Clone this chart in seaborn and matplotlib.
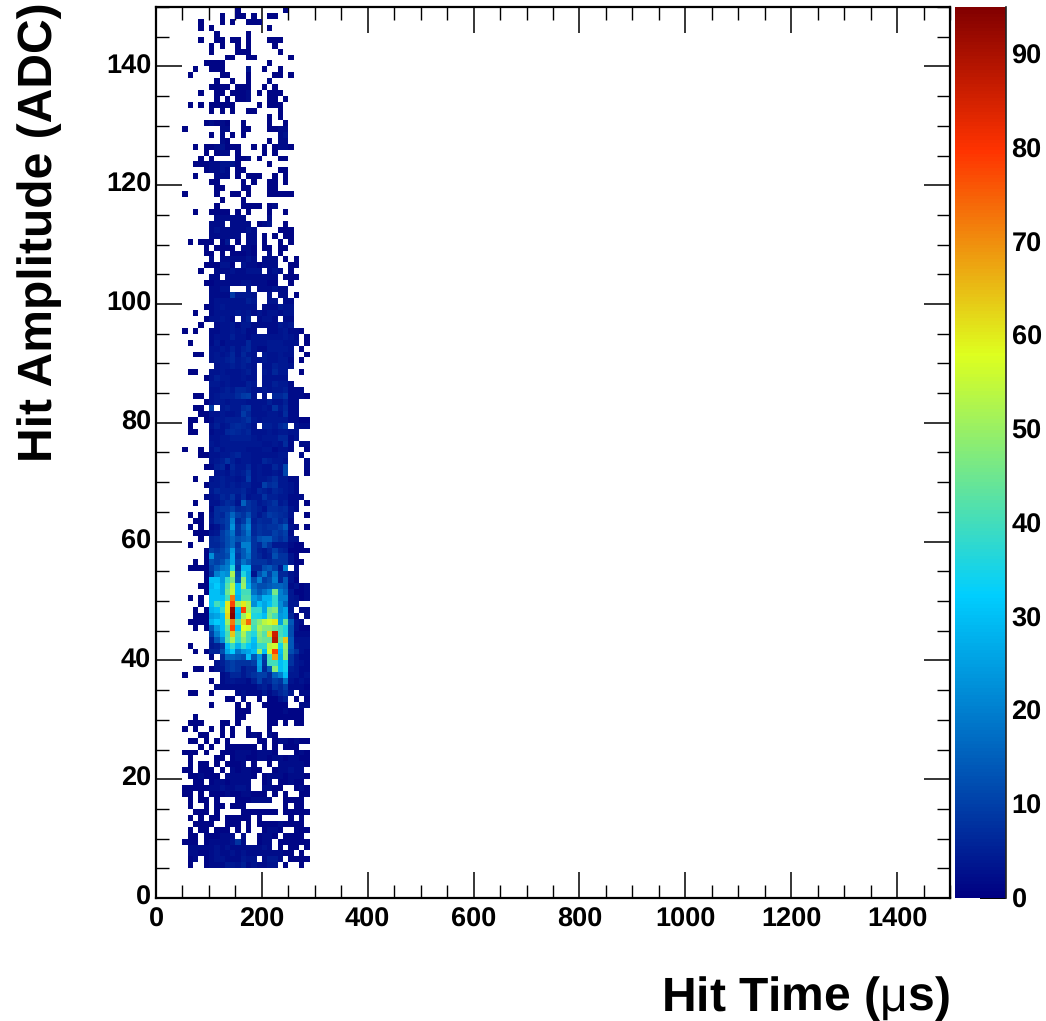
import numpy as np
import pandas as pd
import seaborn as sns
import matplotlib.pyplot as plt
from matplotlib.colors import LinearSegmentedColormap

# histogram binning: 10 us wide in time, 1 ADC high in amplitude
n_time_bins = 150
n_amp_bins = 150
first_time_bin = 5
top_amp_bin = 149

x_tick_labels = [0, 200, 400, 600, 800, 1000, 1200, 1400]
y_tick_labels = [0, 20, 40, 60, 80, 100, 120, 140]
cbar_ticks = [0, 10, 20, 30, 40, 50, 60, 70, 80, 90]

# counts, amplitude bin 149 first, time bins 5..29 in each row
hit_counts = [
    [0,0,0,0,0,0,0,0,0,0,1,0,0,0,0,0,0,0,0,1,0,0,0,0,0],
    [0,0,0,0,0,0,0,1,0,0,1,1,0,1,0,0,1,1,0,0,0,0,0,0,0],
    [0,0,0,1,0,0,0,1,0,1,0,0,1,1,1,0,0,0,0,0,0,0,0,0,0],
    [0,0,0,1,0,1,0,0,0,0,0,0,0,0,0,0,1,0,0,0,0,0,0,0,0],
    [0,0,0,0,0,0,1,0,0,0,0,0,1,0,0,0,0,0,0,0,0,0,0,0,0],
    [0,0,0,1,0,0,1,1,0,1,1,0,1,0,0,0,1,1,1,0,0,0,0,0,0],
    [0,0,0,0,0,1,0,1,0,0,1,0,1,0,0,0,0,1,0,0,0,0,0,0,0],
    [0,0,0,0,0,1,0,0,0,0,1,1,1,0,0,0,0,0,1,0,0,0,0,0,0],
    [0,0,0,0,0,0,0,0,1,1,0,0,1,1,0,0,0,0,0,0,1,0,0,0,0],
    [0,0,0,0,1,1,1,1,0,0,0,0,0,0,0,0,1,0,0,0,0,0,0,0,0],
    [0,0,1,0,0,1,1,1,0,0,0,0,3,0,0,1,0,0,1,0,0,0,0,0,0],
    [0,1,0,0,0,0,0,1,1,0,0,0,1,0,0,0,0,1,1,0,1,0,0,0,0],
    [0,0,0,0,0,0,1,0,0,1,0,0,1,0,0,0,2,0,0,0,0,0,0,0,0],
    [0,0,0,0,0,1,1,1,1,0,1,1,1,0,0,1,0,1,0,0,0,0,0,0,0],
    [0,0,0,1,0,0,1,1,0,1,1,1,2,0,1,0,1,1,1,0,0,0,0,0,0],
    [0,0,0,0,0,0,1,0,1,0,1,1,2,0,0,0,1,1,0,1,0,0,0,0,0],
    [0,1,0,1,0,1,1,1,1,1,0,0,0,0,1,0,1,1,1,0,0,0,0,0,0],
    [0,0,0,0,0,1,0,1,0,1,0,0,1,1,0,0,0,0,1,0,0,0,0,0,0],
    [0,0,0,0,0,0,0,0,0,0,0,0,0,0,0,0,1,0,1,0,0,0,0,0,0],
    [0,0,0,0,1,2,1,2,1,0,0,1,0,0,0,0,1,0,0,1,0,0,0,0,0],
    [1,0,0,0,0,0,0,2,2,0,0,1,1,0,0,0,1,1,2,2,0,0,0,0,0],
    [0,0,0,0,0,1,0,2,0,1,0,1,0,0,0,0,0,0,2,3,0,0,0,0,0],
    [0,0,0,0,0,0,0,2,1,0,0,0,0,0,0,0,1,0,2,2,0,0,0,0,0],
    [0,0,1,0,1,1,2,3,1,1,1,0,0,1,0,1,0,1,2,2,1,0,0,0,0],
    [0,0,0,0,1,0,1,2,2,0,1,0,0,0,0,1,0,1,0,0,0,0,0,0,0],
    [0,0,0,1,0,1,0,0,0,0,1,1,2,0,1,0,0,0,1,1,0,0,0,0,0],
    [0,0,1,1,1,2,2,3,3,3,1,0,0,0,0,0,1,0,0,0,0,0,0,0,0],
    [0,0,0,0,1,2,2,3,2,0,1,1,0,0,0,0,0,0,1,1,0,0,0,0,0],
    [0,0,1,0,0,0,2,2,2,0,1,0,1,1,1,0,0,1,0,1,0,0,0,0,0],
    [0,0,0,0,0,1,1,0,0,0,0,1,0,1,0,0,1,1,0,1,0,0,0,0,0],
    [0,0,0,0,0,0,1,1,0,0,0,1,1,0,0,0,1,1,0,0,0,0,0,0,0],
    [1,0,0,0,0,0,1,0,0,1,1,0,1,0,0,0,1,1,1,1,1,0,0,0,0],
    [0,0,0,0,0,0,0,1,0,0,0,1,0,0,0,0,0,0,0,0,0,0,0,0,0],
    [0,0,0,0,0,0,1,0,0,0,0,1,1,1,1,0,1,2,0,0,0,0,0,0,0],
    [0,0,1,0,0,1,1,1,1,0,1,0,1,0,0,0,1,0,0,1,0,0,0,0,0],
    [0,0,0,0,0,0,2,2,2,2,2,2,0,0,0,0,2,0,0,0,0,0,0,0,0],
    [0,0,0,0,0,2,2,2,0,2,2,2,2,0,1,2,3,0,0,1,0,0,0,0,0],
    [0,0,0,0,0,2,3,2,2,2,2,2,3,2,0,0,0,0,1,1,1,0,0,0,0],
    [0,0,0,0,0,2,2,2,2,2,2,0,2,2,0,1,0,1,0,1,1,0,0,0,0],
    [0,1,0,1,1,1,0,1,4,0,1,0,2,2,0,1,0,0,1,0,1,0,0,0,0],
    [0,0,0,0,1,0,1,1,1,1,0,2,2,1,0,1,1,0,1,1,0,0,0,0,0],
    [0,0,0,0,1,1,0,1,0,1,1,1,2,1,0,0,2,0,1,0,0,0,0,0,0],
    [0,0,0,0,0,2,0,2,2,2,2,2,3,2,0,2,2,2,0,1,0,1,0,0,0],
    [0,0,0,0,1,1,1,3,3,1,0,3,2,2,1,2,2,2,0,0,1,1,0,0,0],
    [0,0,0,1,0,0,2,2,2,3,2,2,3,3,3,0,2,3,2,0,1,0,0,0,0],
    [0,0,0,0,0,2,2,0,2,2,2,2,2,2,2,2,2,2,0,1,1,1,0,0,0],
    [0,0,0,0,1,1,2,2,2,2,2,3,3,2,2,2,1,1,0,0,1,0,0,0,0],
    [0,0,0,0,0,2,2,3,3,0,0,0,3,0,2,2,2,3,2,2,0,0,0,0,0],
    [0,0,0,0,0,2,2,2,2,9,4,4,4,3,0,0,3,0,2,2,0,1,0,0,0],
    [0,0,0,0,0,2,3,3,3,3,3,3,5,4,0,0,3,3,0,2,2,0,0,0,0],
    [0,0,0,0,1,2,3,4,3,3,3,3,3,3,0,2,2,2,4,3,3,0,0,0,0],
    [0,0,1,0,0,2,3,3,3,3,4,3,4,2,3,2,3,3,2,3,3,0,0,0,0],
    [0,0,0,0,1,3,3,4,3,2,0,3,5,0,2,3,3,2,0,2,2,0,0,0,0],
    [0,0,0,1,0,0,2,3,3,4,2,4,4,2,2,2,2,2,4,3,4,0,0,0,0],
    [1,0,1,0,0,2,2,3,3,4,3,4,2,2,0,0,2,2,3,4,2,2,1,0,0],
    [0,0,0,0,0,2,3,3,3,5,3,3,2,3,3,3,3,3,3,4,3,2,0,1,0],
    [0,1,0,0,0,2,4,2,3,3,3,3,6,3,3,3,4,4,4,3,3,3,0,1,0],
    [0,0,0,0,0,3,3,4,3,5,3,5,6,3,2,2,4,4,4,4,3,0,1,0,0],
    [0,0,1,1,0,3,4,3,4,6,3,6,4,3,0,4,3,3,4,3,3,0,0,1,0],
    [0,0,0,0,0,3,4,4,5,6,4,5,6,3,3,4,3,3,4,4,2,0,1,0,0],
    [0,0,0,0,0,0,3,4,4,5,4,5,4,3,0,3,3,5,4,4,3,0,0,0,0],
    [0,1,1,0,0,3,3,4,3,3,3,4,5,3,0,4,3,6,4,4,0,0,1,0,0],
    [0,0,0,0,1,3,5,4,4,3,3,4,3,3,0,3,3,3,3,3,0,0,0,0,0],
    [0,0,0,0,0,4,4,3,4,3,3,3,5,4,0,3,3,5,4,4,2,0,0,0,0],
    [0,0,0,0,0,3,3,4,5,4,6,6,5,3,3,4,3,4,4,5,2,2,2,0,0],
    [0,0,1,1,0,3,4,5,5,5,7,9,10,3,0,3,0,6,6,8,2,2,2,1,0],
    [0,0,0,0,1,3,4,4,3,4,4,4,3,3,3,3,5,3,3,5,2,2,0,0,0],
    [0,0,1,1,0,9,0,4,5,4,4,7,8,3,3,4,3,8,4,6,2,2,0,0,0],
    [0,0,0,1,1,3,3,4,3,3,4,9,6,3,3,3,4,4,3,7,2,2,0,0,0],
    [0,1,1,0,1,2,4,4,5,5,5,6,8,4,3,4,4,4,4,4,2,2,1,1,0],
    [0,1,0,0,0,3,5,3,4,6,7,6,5,3,0,5,5,4,6,8,0,3,2,2,0],
    [0,1,1,0,0,2,3,3,6,7,6,5,6,3,3,3,4,3,4,4,3,3,0,0,0],
    [0,0,0,0,0,3,3,4,4,5,5,5,5,4,3,4,4,4,6,6,2,3,0,0,0],
    [0,0,0,0,0,4,3,4,4,4,4,4,4,4,4,3,3,4,3,7,2,0,2,2,0],
    [1,0,0,1,0,3,5,3,4,4,4,4,3,3,3,4,4,2,3,3,2,0,0,1,0],
    [0,0,0,1,1,3,3,4,4,5,6,4,4,3,3,3,3,3,4,4,0,0,2,0,0],
    [0,0,0,0,0,3,4,5,8,5,3,4,4,3,3,6,5,4,4,3,0,0,0,2,0],
    [0,0,0,0,1,2,5,6,2,6,4,4,6,3,4,3,3,6,4,11,0,0,0,2,0],
    [0,0,0,0,0,0,3,4,3,5,4,5,8,3,4,3,3,4,3,11,0,0,0,1,0],
    [0,0,1,0,0,3,4,5,4,4,3,4,9,3,4,4,5,7,4,4,2,2,0,0,0],
    [0,0,0,0,1,4,4,5,4,5,4,5,5,3,3,10,7,8,4,4,3,2,0,0,0],
    [0,0,0,0,0,4,6,5,5,5,5,6,4,3,6,5,4,6,5,4,3,2,0,0,0],
    [0,0,0,0,2,3,4,6,5,8,4,7,3,4,4,8,5,5,4,4,2,2,2,0,0],
    [0,0,1,0,0,3,3,5,7,6,3,15,8,6,4,5,6,8,4,5,2,2,0,1,0],
    [0,0,0,0,0,2,7,8,8,10,6,7,8,6,5,3,7,7,6,7,3,2,0,0,0],
    [0,1,0,1,0,3,7,6,10,16,10,8,12,6,4,6,9,8,7,6,3,0,0,1,0],
    [0,0,1,1,0,4,7,8,10,20,6,9,17,5,7,6,6,9,6,8,2,0,0,0,0],
    [0,1,0,1,0,2,3,6,10,23,8,14,20,6,8,7,8,8,10,14,3,2,0,1,0],
    [0,0,1,1,1,3,4,9,13,18,8,12,18,6,8,7,7,10,8,10,2,0,0,0,0],
    [0,0,0,1,0,6,7,9,12,16,12,14,16,8,12,14,14,9,7,9,3,3,0,0,0],
    [0,1,0,0,0,6,6,8,12,16,8,20,20,8,6,12,8,4,4,4,2,1,1,0,0],
    [0,0,0,0,1,10,8,10,14,24,10,14,20,8,5,4,6,10,6,5,1,1,1,1,0],
    [0,0,0,0,1,22,10,10,12,26,8,14,18,8,6,4,5,12,8,8,3,1,0,0,0],
    [0,0,1,0,1,12,10,12,18,26,10,18,14,8,8,8,6,8,8,8,3,1,1,0,0],
    [0,1,1,1,1,10,14,18,20,36,8,28,28,6,6,12,14,10,4,20,0,2,0,0,0],
    [0,0,0,0,1,8,20,24,22,52,12,36,26,3,12,18,10,18,6,6,3,2,0,0,0],
    [0,0,0,0,1,30,30,24,38,46,14,48,26,12,20,10,12,20,6,14,3,1,0,0,0],
    [0,0,0,1,1,28,32,26,42,54,30,50,28,16,12,12,14,16,16,14,2,3,1,2,0],
    [0,0,0,0,1,30,30,26,45,55,30,40,40,18,14,18,22,46,20,16,4,1,1,2,0],
    [0,1,0,1,0,30,30,30,40,72,28,42,42,24,20,28,28,38,20,20,4,3,1,2,0],
    [0,0,0,1,0,30,40,34,60,78,50,60,52,22,30,26,30,38,22,16,4,4,0,0,0],
    [0,0,1,0,1,28,30,38,60,93,30,78,52,38,38,26,45,48,22,26,4,0,2,2,0],
    [0,0,1,1,1,24,26,30,62,95,28,50,58,36,35,30,46,40,24,26,6,1,0,2,0],
    [0,1,1,1,1,28,32,30,50,72,42,62,74,42,48,54,56,60,25,44,14,3,2,0,0],
    [0,0,1,0,1,14,24,30,44,78,30,58,56,40,52,48,48,44,40,36,12,3,1,1,0],
    [0,0,0,0,0,10,20,28,40,64,40,52,40,36,48,42,62,86,40,36,12,2,2,2,0],
    [0,0,0,0,0,5,14,22,42,52,38,48,40,30,46,44,44,88,44,64,14,3,3,3,0],
    [0,1,0,0,0,4,5,8,30,38,28,38,32,28,38,38,54,56,34,50,14,4,3,3,0],
    [0,0,1,0,1,6,6,12,26,32,18,24,26,30,50,30,56,78,30,48,12,8,3,2,0],
    [0,0,0,0,0,2,0,6,16,16,14,12,30,14,24,10,40,68,28,48,8,4,2,2,0],
    [0,0,0,0,0,0,3,5,8,10,8,8,8,10,26,8,40,40,30,34,8,4,3,2,0],
    [0,0,1,1,0,1,3,4,8,10,8,4,6,6,24,6,14,48,30,34,5,4,2,2,0],
    [1,0,0,0,0,0,0,2,3,6,6,4,6,8,10,10,6,16,20,30,4,4,2,3,0],
    [0,0,0,0,0,1,0,2,3,4,3,3,2,5,10,5,6,10,8,18,3,2,3,2,0],
    [0,0,0,0,0,0,2,2,2,2,2,2,2,2,4,5,3,8,6,10,2,2,2,1,0],
    [0,1,1,0,0,1,0,0,0,0,2,3,2,2,2,4,2,4,6,8,4,0,2,2,0],
    [0,0,0,0,0,0,0,0,1,1,0,2,0,0,1,0,1,1,3,5,0,1,0,1,0],
    [0,0,0,0,0,1,0,0,0,0,1,0,1,0,0,1,1,1,1,1,0,0,2,2,0],
    [0,0,0,0,0,0,0,0,0,0,1,1,1,0,0,0,1,1,1,2,1,1,1,0,0],
    [0,0,1,0,0,0,0,0,0,0,1,1,0,0,0,0,1,1,1,1,1,1,1,0,0],
    [0,1,1,1,0,0,0,1,1,0,1,0,0,0,0,0,1,1,0,1,0,1,1,0,0],
    [1,0,1,0,0,1,0,1,0,1,0,0,1,0,0,0,1,0,0,0,0,0,0,0,0],
    [0,0,0,1,1,0,0,1,0,1,0,0,1,2,1,0,2,1,0,0,0,0,0,0,0],
    [0,1,1,0,1,0,1,0,1,0,0,0,0,0,1,1,0,1,2,2,1,2,1,1,0],
    [0,0,0,1,0,1,0,0,1,1,1,1,1,1,0,1,0,1,0,1,1,1,0,0,0],
    [1,1,1,0,1,0,0,1,1,1,2,2,2,1,2,2,2,1,0,0,0,1,2,1,0],
    [0,1,0,0,0,0,1,1,0,1,2,2,1,1,2,2,1,2,2,1,2,2,1,1,0],
    [0,1,0,1,1,0,1,0,1,1,1,2,0,1,0,0,1,0,2,2,2,2,2,1,0],
    [1,1,0,1,1,1,0,1,0,2,1,2,2,1,1,0,0,1,2,2,3,2,2,0,0],
    [0,1,1,2,1,1,1,0,2,2,2,2,2,1,0,1,2,2,2,1,2,2,2,1,0],
    [0,0,1,1,0,1,2,2,1,2,2,2,2,0,0,1,2,0,1,1,2,1,1,0,0],
    [1,1,1,1,1,2,2,3,2,2,3,3,2,0,0,2,2,1,1,0,0,1,2,1,0],
    [1,1,0,1,0,1,1,1,2,1,1,2,2,1,1,1,0,1,0,1,0,0,1,1,0],
    [0,1,0,1,1,0,1,0,0,0,1,1,1,2,2,2,2,0,0,1,1,1,1,0,0],
    [0,1,0,0,1,0,1,1,0,1,1,1,0,0,0,0,0,0,0,1,0,1,1,0,0],
    [0,0,1,1,1,0,1,0,0,0,0,1,1,1,1,1,1,1,0,1,1,1,1,1,0],
    [0,1,0,1,0,1,1,0,1,1,1,1,1,0,1,0,0,0,0,0,1,0,1,0,0],
    [0,0,1,1,1,1,0,0,1,1,1,0,1,0,1,1,1,1,2,1,1,1,1,0,0],
    [0,1,0,1,1,0,1,1,1,0,1,0,1,0,0,1,2,2,1,0,0,1,1,1,0],
    [0,1,1,0,1,1,1,2,2,2,0,2,0,0,1,2,2,1,0,1,1,1,1,0,0],
    [1,1,1,0,1,2,2,2,2,3,8,2,0,0,1,2,2,0,1,1,1,1,1,1,0],
    [0,2,2,2,2,2,3,2,3,2,2,2,2,2,2,3,2,0,1,0,1,1,0,1,0],
    [0,2,2,1,1,2,3,2,2,3,2,3,2,2,2,2,2,2,2,1,1,0,1,0,0],
    [0,1,2,0,1,2,3,3,2,2,2,4,3,3,0,2,4,4,2,0,1,1,1,1,0],
    [0,1,0,0,1,2,2,2,4,4,3,5,2,3,2,2,3,3,0,1,0,0,1,0,0],
]

x_ticks = [v / 10 for v in x_tick_labels]
y_ticks = y_tick_labels

# fill the sparse rows into the full 150 x 150 histogram
counts = np.zeros((n_amp_bins, n_time_bins))
for k, row in enumerate(hit_counts):
    counts[top_amp_bin - k, first_time_bin:first_time_bin + len(row)] = row
df = pd.DataFrame(counts)

# ROOT rainbow palette
stops = [0.0, 0.34, 0.61, 0.84, 1.0]
reds = [0.0, 0.0, 0.87, 1.0, 0.51]
greens = [0.0, 0.81, 1.0, 0.2, 0.0]
blues = [0.51, 1.0, 0.12, 0.0, 0.0]
root_cmap = LinearSegmentedColormap.from_list(
    'root_rainbow', [(s, (r, g, b)) for s, r, g, b in zip(stops, reds, greens, blues)], N=255)

sns.set_theme(style='white')
plt.rcParams['font.family'] = 'Liberation Sans'
plt.rcParams['mathtext.fontset'] = 'custom'
plt.rcParams['mathtext.rm'] = 'Liberation Sans'
plt.rcParams['mathtext.default'] = 'regular'
plt.rcParams['text.hinting'] = 'no_hinting'

W, H = 1046, 1021
fig = plt.figure(figsize=(W / 100, H / 100), dpi=100)
ax = fig.add_axes([156 / W, 1 - 898 / H, 794 / W, 891 / H])
cax = fig.add_axes([955 / W, 1 - 898 / H, 51 / W, 891 / H])

sns.heatmap(df, mask=df == 0, cmap=root_cmap, vmin=0, vmax=95, ax=ax, cbar_ax=cax,
            cbar_kws={'ticks': cbar_ticks}, square=False)
ax.set_xlim(0, n_time_bins)
ax.set_ylim(0, n_amp_bins)

for spine in ax.spines.values():
    spine.set_visible(True)
    spine.set_linewidth(1.6)
    spine.set_color('black')

ax.set_xticks(x_ticks)
ax.set_xticklabels(x_tick_labels, rotation=0, fontsize=19.5, fontweight='bold')
ax.set_xticks(np.arange(0, n_time_bins + 1, 5), minor=True)
ax.set_yticks(y_ticks)
ax.set_yticklabels(y_tick_labels, rotation=0, fontsize=19.5, fontweight='bold')
ax.set_yticks(np.arange(0, n_amp_bins + 1, 5), minor=True)
ax.tick_params(which='major', direction='in', top=True, right=True, bottom=True, left=True,
               length=18.5, width=1.1, color='black', pad=3.5, labelcolor='black')
ax.tick_params(which='minor', direction='in', top=True, right=True, bottom=True, left=True,
               length=9.2, width=1.0, color='black')
ax.tick_params(axis='x', which='major', pad=6.5)
ax.set_xlabel('')
ax.set_ylabel('')

# colour bar, ticks run inward from the right edge
cax.yaxis.tick_right()
cax.tick_params(which='major', direction='in', right=True, left=False, length=18.5, width=1.4,
                color='black', pad=4, labelsize=19.5, labelcolor='black')
for lab in cax.get_yticklabels():
    lab.set_fontweight('bold')
ax.collections[0].colorbar.outline.set_visible(False)
cax.spines['right'].set_visible(True)
cax.spines['right'].set_color('#222222')
cax.spines['right'].set_linewidth(1.2)

fig.text(950 / W, 1 - 1011 / H, r'Hit Time ($\mathrm{\mu}$s)', ha='right', va='baseline',
         fontsize=34.6, fontweight='bold', color='black')
fig.text(52 / W, 1 - 2 / H, 'Hit Amplitude (ADC)', rotation=90, rotation_mode='anchor',
         ha='right', va='baseline', fontsize=34.6, fontweight='bold', color='black')

fig.savefig('out.png', dpi=100)
